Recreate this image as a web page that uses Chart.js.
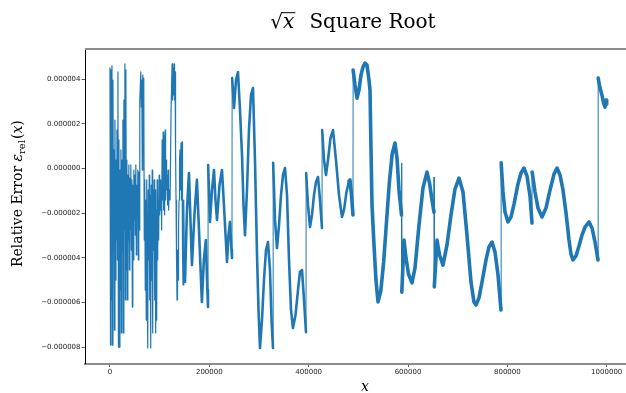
<!DOCTYPE html>
<html>
<head>
<meta charset="utf-8">
<script src="https://cdn.jsdelivr.net/npm/chart.js@4"></script>
<style>
  html, body { margin: 0; padding: 0; overflow: hidden; background: #fff; }
  #wrap { width: 645px; height: 393px; }
</style>
</head>
<body>
<div id="wrap"><canvas id="myChart" width="645" height="393"></canvas></div>
<script>
// x = argument, y = relative error
const xValues = [
  0, 1000, 2000, 3000, 4000, 5000, 6000, 7000, 8000, 9000,
  10000, 11000, 12000, 13000, 14000, 15000, 16000, 17000, 18000, 19000,
  20000, 21000, 22000, 23000, 24000, 25000, 26000, 27000, 28000, 29000,
  30000, 31000, 32000, 33000, 34000, 35000, 36000, 37000, 38000, 39000,
  40000, 41000, 42000, 43000, 44000, 45000, 46000, 47000, 48000, 49000,
  50000, 51000, 52000, 53000, 54000, 55000, 56000, 57000, 58000, 59000,
  60000, 62000, 63000, 64000, 65000, 66000, 67000, 68000, 69000, 70000,
  71000, 72000, 73000, 74000, 76000, 77000, 78000, 79000, 80000, 81000,
  82000, 83000, 84000, 85000, 86000, 87000, 88000, 89000, 90000, 91000,
  92000, 93000, 94000, 95000, 96000, 97000, 98000, 99000, 100000, 101000,
  102000, 103000, 104000, 105000, 106000, 107000, 108000, 109000, 110000, 111000,
  112000, 113000, 114000, 115000, 116000, 117000, 118000, 119000, 121000, 123000,
  125000, 126000, 127000, 128000, 129000, 130000, 131000, 132000, 133000, 134000,
  135000, 136000, 137000, 138000, 139000, 140000, 141000, 142000, 143000, 144000,
  145000, 146000, 147000, 148000, 149000, 150000,
  151000, 155000, 159000, 162000, 165000, 170000, 175000, 180000, 185000, 189000,
  193000, 196000, 197300, 197600, 201300, 205400, 209400, 212400, 215400, 220500,
  225500, 230500, 235600, 238600, 241600, 244600, 245600, 245900, 249700, 253700,
  257700, 261700, 265800, 268800, 271800, 275800, 279800, 283900, 287900, 291900,
  296000, 299000, 302000, 306000, 310000, 314100, 318100, 322100, 325200, 328200,
  328500, 332200, 336200, 340300, 344300, 348300, 352300, 356400, 360400, 364400,
  368400, 373500, 378500, 382500, 386600, 390600, 394600, 394900, 398600, 402700,
  406700, 410700, 414700, 418800, 422800, 426800, 427100, 430900, 434900, 438900,
  443900, 449000, 455000, 461100, 467100, 471100, 476100, 481200, 483200, 486200,
  489200, 489500, 493300, 497300, 501300, 505300, 509400, 513400, 517400, 521400,
  523500, 525500, 527500, 531500, 535500, 539600, 545200, 551000, 556700, 562300,
  568100, 573800, 577800, 581800, 586900, 587200, 587500, 591900, 595900, 601000,
  608000, 614100, 622100, 630100, 638200, 643300, 648300, 652300, 652600, 652900,
  658400, 663400, 670400, 678500, 686500, 694600, 702600, 710700, 718700, 726800,
  732800, 736900, 742900, 749000, 757000, 763000, 769100, 775100, 781200, 787200,
  787500, 791200, 795300, 801300, 807300, 813400, 821400, 827500, 833500, 839600,
  845600, 849600, 849900, 855700, 861700, 869800, 877800, 885900, 893900, 900000,
  906000, 912000, 918100, 924100, 928100, 932200, 938200, 944200, 950300, 956300,
  964400, 970400, 976500, 982500, 982800, 986500, 990500, 993600, 996600, 998600,
  1000000
];
const yValues = [
  4.50e-6, -7.90e-6, 4.41e-6, -5.88e-6, 4.59e-6, -7.90e-6, 3.96e-6, -3.65e-6, 0.83e-6, -7.23e-6,
  2.17e-6, -4.99e-6, 0.38e-6, -3.20e-6, 1.72e-6, -4.09e-6, 4.32e-6, -7.99e-6, 1.28e-6, -7.99e-6,
  -0.07e-6, -5.44e-6, 0.83e-6, -7.36e-6, 0.38e-6, -3.65e-6, 2.17e-6, -7.36e-6, 3.06e-6, -2.75e-6,
  4.68e-6, -5.88e-6, 4.41e-6, -4.54e-6, 0.38e-6, -5.88e-6, -0.29e-6, -3.20e-6, 0.16e-6, -4.54e-6,
  -0.43e-6, -2.75e-6, 0.16e-6, -3.65e-6, -0.51e-6, -6.20e-6, -0.74e-6, -4.09e-6, -0.07e-6, -2.30e-6,
  -0.29e-6, -2.98e-6, 0.16e-6, -3.87e-6, -0.74e-6, -2.08e-6, -0.07e-6, -4.09e-6, -0.16e-6, -2.75e-6,
  3.06e-6, 4.32e-6, 2.75e-6, 3.96e-6, -0.07e-6, 4.18e-6, 3.06e-6, 4.05e-6, -3.20e-6, -0.51e-6,
  -5.44e-6, -1.41e-6, -6.78e-6, -0.51e-6, -8.03e-6, -0.96e-6, -4.09e-6, -0.29e-6, -5.88e-6, -1.19e-6,
  -8.03e-6, -0.74e-6, -4.99e-6, -0.07e-6, -7.36e-6, -0.96e-6, -3.65e-6, -0.51e-6, -5.88e-6, -0.96e-6,
  -7.36e-6, -1.86e-6, -6.78e-6, -0.51e-6, -4.09e-6, -1.41e-6, -3.20e-6, -0.29e-6, -2.08e-6, -0.51e-6,
  -1.86e-6, -0.74e-6, -2.75e-6, 1.28e-6, -1.41e-6, 1.63e-6, -1.86e-6, 1.50e-6, -2.08e-6, 1.72e-6,
  -1.41e-6, 0.38e-6, -0.96e-6, -0.29e-6, -1.63e-6, -0.07e-6, -1.86e-6, -0.96e-6, -1.41e-6, 2.62e-6,
  4.68e-6, 3.06e-6, 4.50e-6, 3.29e-6, 4.68e-6, 3.06e-6, 4.32e-6, 0.83e-6, -1.41e-6, -4.09e-6,
  -5.88e-6, -3.65e-6, -4.99e-6, -2.75e-6, -1.41e-6, 0.38e-6, 0.83e-6, -0.96e-6, 1.14e-6, -1.41e-6,
  1.19e-6, -3.65e-6, -5.21e-6, -3.20e-6, -1.41e-6, -4.09e-6,
  -5.08e-6, -1.86e-6, -0.20e-6, -2.30e-6, -4.32e-6, -2.08e-6, -0.51e-6, -3.20e-6, -5.97e-6, -4.09e-6,
  -3.20e-6, -5.44e-6, -6.20e-6, 0.16e-6, -2.39e-6, -0.96e-6, -0.07e-6, -1.41e-6, -2.30e-6, -0.74e-6,
  -0.07e-6, -2.08e-6, -4.18e-6, -2.98e-6, -2.39e-6, -3.65e-6, -4.00e-6, 4.05e-6, 2.71e-6, 3.96e-6,
  4.32e-6, 2.62e-6, 0.60e-6, -1.63e-6, -2.98e-6, -0.96e-6, 1.72e-6, 3.29e-6, 3.60e-6, 0.38e-6,
  -3.87e-6, -6.33e-6, -8.03e-6, -6.78e-6, -4.99e-6, -3.65e-6, -3.29e-6, -4.54e-6, -6.78e-6, -8.03e-6,
  0.25e-6, -2.30e-6, -3.56e-6, -2.53e-6, -1.19e-6, -0.29e-6, 0.02e-6, -1.19e-6, -4.09e-6, -6.33e-6,
  -7.14e-6, -6.55e-6, -5.44e-6, -4.63e-6, -4.54e-6, -5.88e-6, -7.32e-6, -0.20e-6, -1.63e-6, -2.62e-6,
  -2.08e-6, -1.19e-6, -0.60e-6, -0.38e-6, -1.41e-6, -2.66e-6, 1.72e-6, 0.38e-6, -0.29e-6, 0.38e-6,
  1.36e-6, 1.72e-6, 0.38e-6, -1.19e-6, -2.17e-6, -1.86e-6, -1.05e-6, -0.56e-6, -0.51e-6, -1.19e-6,
  -2.08e-6, 4.41e-6, 3.74e-6, 3.15e-6, 3.51e-6, 4.18e-6, 4.54e-6, 4.72e-6, 4.63e-6, 3.96e-6,
  3.51e-6, 0.83e-6, -1.63e-6, -3.42e-6, -4.99e-6, -5.97e-6, -5.48e-6, -4.18e-6, -2.39e-6, -0.65e-6,
  0.65e-6, 1.14e-6, 0.47e-6, -0.96e-6, -2.08e-6, 0.25e-6, -5.53e-6, -3.20e-6, -4.00e-6, -4.72e-6,
  -5.12e-6, -4.45e-6, -2.53e-6, -0.87e-6, -0.16e-6, -0.65e-6, -1.41e-6, -1.95e-6, -0.38e-6, -5.30e-6,
  -3.20e-6, -3.87e-6, -4.32e-6, -3.42e-6, -2.08e-6, -0.92e-6, -0.43e-6, -1.05e-6, -2.98e-6, -5.08e-6,
  -5.97e-6, -6.11e-6, -5.79e-6, -5.08e-6, -4.09e-6, -3.51e-6, -3.29e-6, -3.74e-6, -4.77e-6, -6.33e-6,
  0.25e-6, -1.05e-6, -1.95e-6, -2.39e-6, -2.17e-6, -1.59e-6, -0.69e-6, -0.20e-6, 0.02e-6, -0.34e-6,
  -1.23e-6, -2.44e-6, -0.16e-6, -1.05e-6, -1.77e-6, -2.17e-6, -1.77e-6, -0.96e-6, -0.25e-6, 0.02e-6,
  -0.29e-6, -0.96e-6, -1.99e-6, -3.20e-6, -3.83e-6, -4.09e-6, -3.91e-6, -3.47e-6, -2.98e-6, -2.62e-6,
  -2.39e-6, -2.66e-6, -3.29e-6, -4.09e-6, 4.05e-6, 3.60e-6, 3.29e-6, 2.93e-6, 2.75e-6, 3.06e-6,
  2.89e-6
];
const xTicks = [0, 200000, 400000, 600000, 800000, 1000000];
const yTicks = [-0.000008, -0.000006, -0.000004, -0.000002, 0, 0.000002, 0.000004];
const titleText = 'Square Root';
const yLabelText = 'Relative Error ';

const lineColor = '#1f77b4';
const serif = '"DejaVu Serif"';

const labelsPlugin = {
  id: 'labels',
  afterDraw(chart) {
    const c = chart.ctx, a = chart.chartArea;
    c.save();
    // top spine
    c.strokeStyle = '#8c8c8c';
    c.lineWidth = 2;
    c.beginPath(); c.moveTo(a.left, a.top); c.lineTo(a.right, a.top); c.stroke();

    c.fillStyle = '#000';
    c.textAlign = 'left';
    c.textBaseline = 'alphabetic';

    // title: sqrt(x)  Square Root
    const fs = 20, base = 28;
    c.font = fs + 'px ' + serif;
    const rad = c.measureText('\u221A');
    const wName = c.measureText(titleText).width;
    c.font = 'italic ' + fs + 'px ' + serif;
    const wX = c.measureText('x').width;
    const gap = 15;
    let tx = 353 - (rad.width + wX + gap + wName) / 2;
    c.font = fs + 'px ' + serif;
    c.fillText('\u221A', tx, base);
    const barY = base - rad.actualBoundingBoxAscent + 0.7;
    c.lineWidth = 1;
    c.strokeStyle = '#000';
    c.beginPath(); c.moveTo(tx + rad.width - 1, barY); c.lineTo(tx + rad.width + wX + 1, barY); c.stroke();
    tx += rad.width;
    c.font = 'italic ' + fs + 'px ' + serif;
    c.fillText('x', tx, base);
    tx += wX + gap;
    c.font = fs + 'px ' + serif;
    c.fillText(titleText, tx, base);

    // x label
    c.font = 'italic 14px ' + serif;
    c.textAlign = 'center';
    c.fillText('x', 365, 390.5);

    // y label, rotated
    c.textAlign = 'left';
    c.translate(21.5, 267);
    c.rotate(-Math.PI / 2);
    let p = 0;
    const part = (txt, font, dy) => {
      c.font = font;
      c.fillText(txt, p, dy);
      p += c.measureText(txt).width;
    };
    part(yLabelText, '14px ' + serif, 0);
    part('\u03B5', 'italic 14px ' + serif, 0);
    part('rel', '10px ' + serif, 3);
    p += 1;
    part('(', '14px ' + serif, 0);
    part('x', 'italic 14px ' + serif, 0);
    part(')', '14px ' + serif, 0);
    c.restore();
  }
};

const tickFont = { family: 'DejaVu Sans', size: 7 };

const config = {
  type: 'line',
  data: {
    datasets: [{
      data: xValues.map((x, i) => ({ x: x, y: yValues[i] })),
      borderColor: lineColor,
      borderWidth: 2.5,
      pointRadius: 0,
      tension: 0,
      fill: false,
      borderJoinStyle: 'round',
      borderCapStyle: 'round',
      segment: {
        borderWidth: ctx => {
          const x0 = ctx.p0.parsed.x, dx = ctx.p1.parsed.x - x0;
          if (dx < 600) return 1;
          if (x0 < 150500) return 1.2;
          if (x0 < 480000) return 2.6;
          return 3.6;
        }
      }
    }]
  },
  options: {
    responsive: false,
    animation: false,
    layout: { padding: { top: 49, left: 0, right: 0, bottom: 0 } },
    plugins: {
      legend: { display: false },
      tooltip: { enabled: false },
      title: { display: false }
    },
    scales: {
      x: {
        type: 'linear',
        min: -50300,
        max: 1077100,
        afterBuildTicks: s => { s.ticks = xTicks.map(v => ({ value: v })); },
        afterFit: s => { s.height = 29.5; },
        ticks: {
          font: tickFont, color: '#222', padding: 1, autoSkip: false, maxRotation: 0,
          callback: v => String(v)
        },
        grid: { drawOnChartArea: false, drawTicks: true, tickLength: 3.5, color: '#333', tickWidth: 0.8 },
        border: { display: true, color: '#8c8c8c', width: 2 }
      },
      y: {
        type: 'linear',
        min: -8.725e-6,
        max: 5.347e-6,
        afterBuildTicks: s => { s.ticks = yTicks.map(v => ({ value: v })); },
        afterFit: s => { s.width = 85; },
        ticks: {
          font: tickFont, color: '#222', padding: 1, autoSkip: false,
          callback: v => v.toFixed(6).replace('-', '\u2212')
        },
        grid: { drawOnChartArea: false, drawTicks: true, tickLength: 3.5, color: '#333', tickWidth: 0.8 },
        border: { display: true, color: '#000', width: 1 }
      }
    }
  },
  plugins: [labelsPlugin]
};

const ctx = document.getElementById('myChart').getContext('2d');
const grafica = new Chart(ctx, config);
</script>
</body>
</html>
